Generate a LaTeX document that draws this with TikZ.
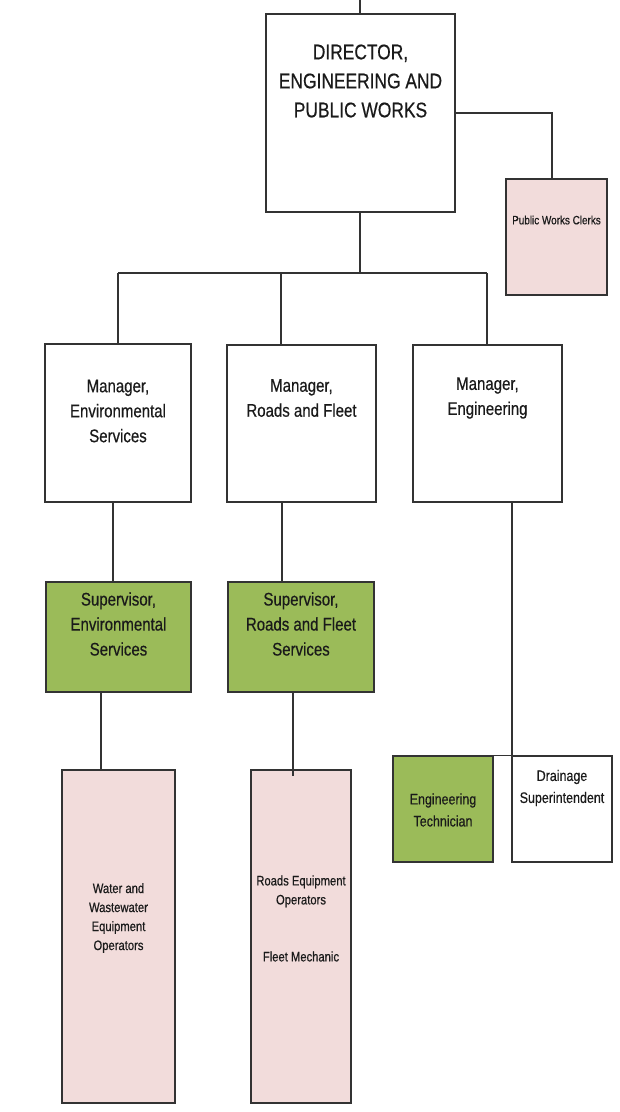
\documentclass[tikz,border=0pt]{standalone}
\usepackage{fontspec}
\setmainfont{Liberation Sans}[FakeStretch=0.82,FakeBold=0.5]
\definecolor{boxline}{HTML}{333333}
\definecolor{olive}{HTML}{9BBB59}
\definecolor{pinkfill}{HTML}{F2DCDB}
\definecolor{txt}{HTML}{1A1A1A}
\tikzset{
  box/.style={draw=boxline, line width=1.3pt, rectangle, inner sep=0pt, fill=white},
  greenbox/.style={box, fill=olive},
  pinkbox/.style={box, fill=pinkfill},
  conn/.style={draw=boxline, line width=1.2pt},
  lbl/.style={align=center, text=txt, inner sep=0pt},
  big/.style={lbl, font=\fontsize{21.2}{29}\selectfont},
  mid/.style={lbl, font=\fontsize{18.3}{25}\selectfont},
  small/.style={lbl, font=\fontsize{15.2}{22}\selectfont},
  tiny/.style={lbl, font=\fontsize{13.7}{19}\selectfont},
  wee/.style={lbl, font=\fontsize{12.1}{15}\selectfont}
}
\begin{document}
\begin{tikzpicture}[x=1pt,y=-1pt]
\useasboundingbox (0,0) rectangle (619,1112);
% boxes
\node[box, minimum width=189pt, minimum height=198pt] (dir) at (360.5,113) {};
\node[pinkbox, minimum width=101pt, minimum height=116pt] (clerks) at (556.5,237) {};
\node[box, minimum width=146pt, minimum height=158pt] (menv) at (118,423) {};
\node[box, minimum width=149pt, minimum height=157pt] (mroads) at (301.5,423.5) {};
\node[box, minimum width=149pt, minimum height=157pt] (meng) at (487.5,423.5) {};
\node[greenbox, minimum width=145pt, minimum height=110pt] (senv) at (118.5,637) {};
\node[greenbox, minimum width=146pt, minimum height=110pt] (sroads) at (301,637) {};
\node[pinkbox, minimum width=113pt, minimum height=333pt] (penv) at (118.5,936.5) {};
\node[pinkbox, minimum width=100pt, minimum height=333pt] (proads) at (301,936.5) {};
\node[greenbox, minimum width=100pt, minimum height=106pt] (tech) at (443,809) {};
\node[box, minimum width=100pt, minimum height=106pt] (drain) at (562,809) {};
% coordinates
\coordinate (topend) at (360,0);
\coordinate (barL) at (118,273);
\coordinate (barM) at (281,273);
\coordinate (barR) at (487,273);
\coordinate (barC) at (360,273);
\coordinate (clerkTurn) at (552,113);
\coordinate (xEnvA) at (113,0);
\coordinate (xRdsA) at (282,0);
\coordinate (xEnvB) at (101,0);
\coordinate (xEng) at (512,0);
\coordinate (rdsEnd) at (293,776);
% connectors
\draw[conn] (topend) -- (topend |- dir.north);
\draw[conn] (dir.east) -- (clerkTurn) -- (clerkTurn |- clerks.north);
\draw[conn] (barC |- dir.south) -- (barC);
\draw[conn] (barL) -- (barR);
\draw[conn] (barL) -- (barL |- menv.north);
\draw[conn] (barM) -- (barM |- mroads.north);
\draw[conn] (barR) -- (barR |- meng.north);
\draw[conn] (xEnvA |- menv.south) -- (xEnvA |- senv.north);
\draw[conn] (xRdsA |- mroads.south) -- (xRdsA |- sroads.north);
\draw[conn] (xEnvB |- senv.south) -- (xEnvB |- penv.north);
\draw[conn] (rdsEnd |- sroads.south) -- (rdsEnd);
\draw[conn] (xEng |- meng.south) -- (xEng |- drain.north);
\draw[conn] (tech.north east) -- (drain.north west);
% labels
\node[big] (tdir) at (360.5,81) {DIRECTOR,\\ENGINEERING AND\\PUBLIC WORKS};
\node[wee] (tclerks) at (556.5,220) {Public Works Clerks};
\node[mid] (tmenv) at (118,411) {Manager,\\Environmental\\Services};
\node[mid] (tmroads) at (301.5,398) {Manager,\\Roads and Fleet};
\node[mid] (tmeng) at (487.5,398) {Manager,\\Engineering};
\node[mid] (tsenv) at (118.5,624) {Supervisor,\\Environmental\\Services};
\node[mid] (tsroads) at (301,624) {Supervisor,\\Roads and Fleet\\Services};
\node[tiny] (tpenv) at (118.5,918) {Water and\\Wastewater\\Equipment\\Operators};
\node[tiny] (tproads) at (301,918.5) {Roads Equipment\\Operators\\[38pt]Fleet Mechanic};
\node[small] (ttech) at (443,810) {Engineering\\Technician};
\node[small] (tdrain) at (562,788) {Drainage\\Superintendent};
\end{tikzpicture}
\end{document}
